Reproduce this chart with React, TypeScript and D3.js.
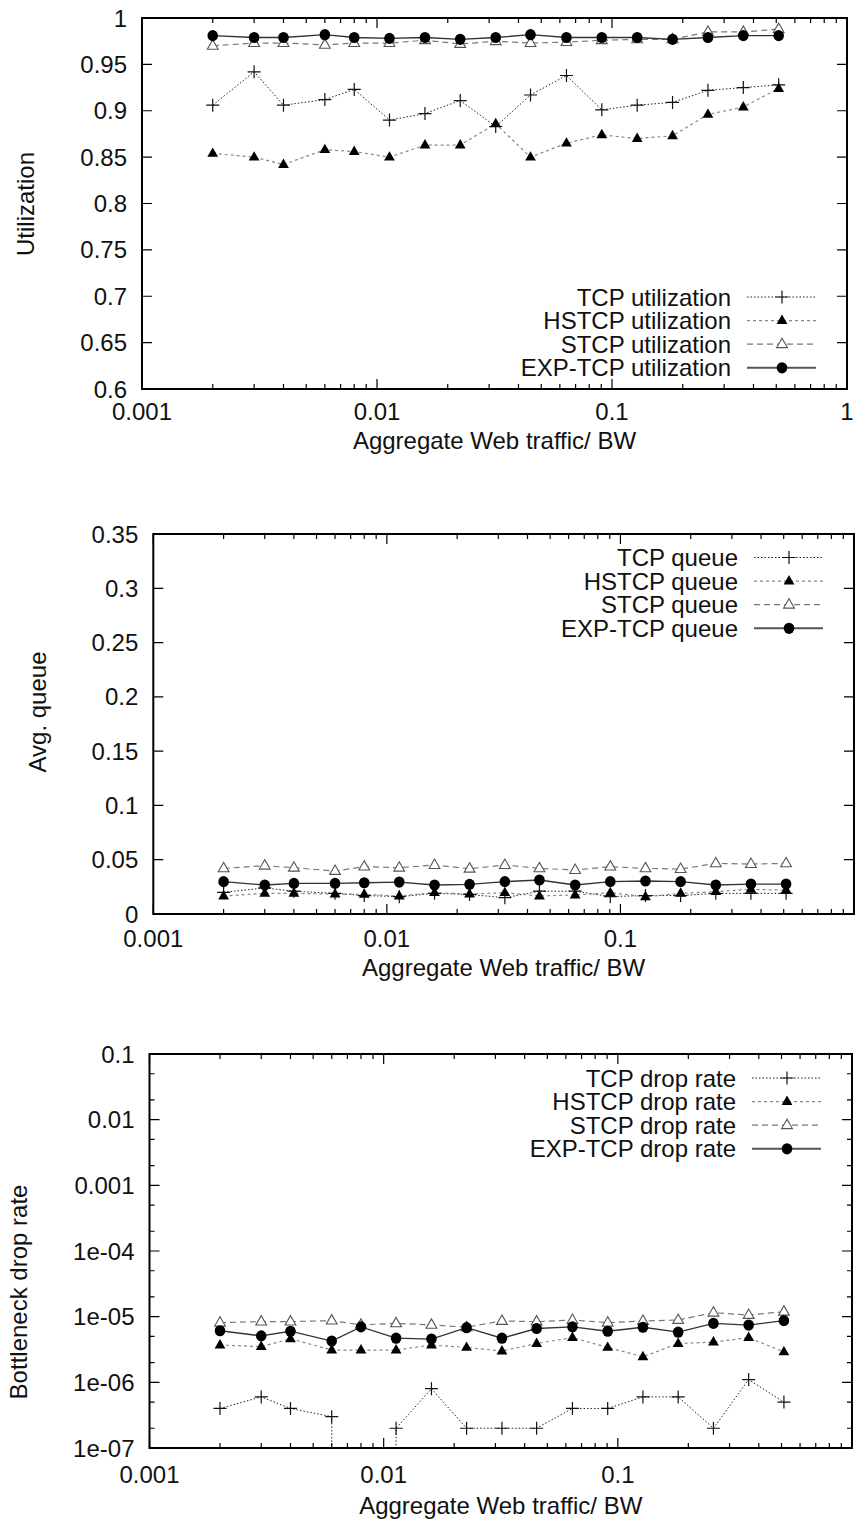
import React from "react";
import * as d3 from "d3";

// Offered web load (aggregate web traffic / bottleneck bandwidth)
const loads = [
  0.002, 0.003, 0.004, 0.006, 0.008, 0.0113, 0.016, 0.0226, 0.032, 0.045,
  0.064, 0.0905, 0.128, 0.181, 0.256, 0.362, 0.512,
];

// Bottleneck utilization
const tcpUtil = [0.906, 0.942, 0.906, 0.912, 0.923, 0.89, 0.897, 0.911, 0.883, 0.917, 0.938, 0.901, 0.906, 0.909, 0.922, 0.925, 0.928];
const hstcpUtil = [0.854, 0.85, 0.842, 0.858, 0.856, 0.85, 0.863, 0.863, 0.886, 0.85, 0.865, 0.874, 0.87, 0.873, 0.896, 0.904, 0.924];
const stcpUtil = [0.97, 0.973, 0.973, 0.971, 0.973, 0.973, 0.976, 0.972, 0.975, 0.973, 0.974, 0.976, 0.977, 0.977, 0.985, 0.985, 0.988];
const expUtil = [0.981, 0.979, 0.979, 0.982, 0.979, 0.978, 0.979, 0.977, 0.979, 0.982, 0.979, 0.979, 0.979, 0.977, 0.979, 0.981, 0.981];

// Average queue (fraction of buffer)
const tcpQueue = [0.02, 0.024, 0.021, 0.019, 0.017, 0.016, 0.019, 0.018, 0.015, 0.021, 0.021, 0.016, 0.017, 0.017, 0.019, 0.019, 0.019];
const hstcpQueue = [0.0166, 0.019, 0.019, 0.0184, 0.0181, 0.0166, 0.0196, 0.0184, 0.0196, 0.0166, 0.0175, 0.0196, 0.0159, 0.019, 0.0206, 0.0227, 0.022];
const stcpQueue = [0.042, 0.0445, 0.0426, 0.0396, 0.0436, 0.0426, 0.0451, 0.0417, 0.0451, 0.042, 0.0405, 0.0436, 0.042, 0.0414, 0.0466, 0.046, 0.0466];
const expQueue = [0.0298, 0.0267, 0.0282, 0.0282, 0.0288, 0.0294, 0.0267, 0.0273, 0.0298, 0.0313, 0.0267, 0.0298, 0.0304, 0.0298, 0.0267, 0.0276, 0.0276];

// Bottleneck drop rate (0 = no drops observed)
const tcpDrop = [4e-7, 6e-7, 4e-7, 3e-7, 0, 2e-7, 8e-7, 2e-7, 2e-7, 2e-7, 4e-7, 4e-7, 6e-7, 6e-7, 2e-7, 1.1e-6, 5e-7];
const hstcpDrop = [3.7e-6, 3.5e-6, 4.6e-6, 3.1e-6, 3.1e-6, 3.1e-6, 3.7e-6, 3.4e-6, 3.0e-6, 3.9e-6, 4.8e-6, 3.4e-6, 2.45e-6, 3.9e-6, 4.1e-6, 4.8e-6, 2.9e-6];
const stcpDrop = [8.1e-6, 8.4e-6, 8.4e-6, 8.7e-6, 7.5e-6, 7.9e-6, 7.5e-6, 6.9e-6, 8.6e-6, 8.4e-6, 8.9e-6, 8.1e-6, 8.6e-6, 8.9e-6, 1.15e-5, 1.06e-5, 1.19e-5];
const expDrop = [6.1e-6, 5.1e-6, 6.0e-6, 4.25e-6, 7.0e-6, 4.7e-6, 4.56e-6, 6.8e-6, 4.7e-6, 6.6e-6, 7.0e-6, 6.0e-6, 6.9e-6, 5.8e-6, 7.9e-6, 7.45e-6, 8.7e-6];

// Axis ticks
const xMajorTicks = [0.001, 0.01, 0.1, 1];
const xTickLabels = ["0.001", "0.01", "0.1", "1"];
const utilTicks = [0.6, 0.65, 0.7, 0.75, 0.8, 0.85, 0.9, 0.95, 1];
const utilTickLabels = ["0.6", "0.65", "0.7", "0.75", "0.8", "0.85", "0.9", "0.95", "1"];
const queueTicks = [0, 0.05, 0.1, 0.15, 0.2, 0.25, 0.3, 0.35];
const queueTickLabels = ["0", "0.05", "0.1", "0.15", "0.2", "0.25", "0.3", "0.35"];
const dropTicks = [1e-7, 1e-6, 1e-5, 1e-4, 1e-3, 1e-2, 1e-1];
const dropTickLabels = ["1e-07", "1e-06", "1e-05", "1e-04", "0.001", "0.01", "0.1"];

const protocols = ["TCP", "HSTCP", "STCP", "EXP-TCP"];

const FONT = '"Liberation Sans", Arial, Helvetica, sans-serif';
const FS = 24;

type MarkerKind = "plus" | "triFilled" | "triOpen" | "circle";
type Style = { stroke: string; dash: string | null; width: number; marker: MarkerKind };

const styles: Style[] = [
  { stroke: "#222", dash: "1.5,2", width: 1, marker: "plus" },
  { stroke: "#888", dash: "3,3", width: 1.2, marker: "triFilled" },
  { stroke: "#777", dash: "6,4", width: 1.2, marker: "triOpen" },
  { stroke: "#333", dash: null, width: 1.3, marker: "circle" },
];

function Marker({ kind, x, y }: { kind: MarkerKind; x: number; y: number }) {
  if (kind === "plus") {
    const h = 6.5;
    return (
      <path
        d={`M${x - h},${y}H${x + h}M${x},${y - h}V${y + h}`}
        stroke="#111"
        strokeWidth={1.2}
        fill="none"
      />
    );
  }
  if (kind === "circle") {
    return <ellipse cx={x} cy={y} rx={5.3} ry={5.6} fill="#000" />;
  }
  const pts = `${x},${y - 6} ${x - 5.4},${y + 3.4} ${x + 5.4},${y + 3.4}`;
  if (kind === "triFilled") return <polygon points={pts} fill="#000" />;
  return <polygon points={pts} fill="#fff" stroke="#555" strokeWidth={1.1} />;
}

type PanelProps = {
  id: string;
  left: number;
  right: number;
  top: number;
  bottom: number;
  logY: boolean;
  yDomain: [number, number];
  yTicks: number[];
  yTickLabels: string[];
  series: number[][];
  suffix: string;
  yTitle: string;
  yTitleX: number;
  yTitleY: number;
  legendTop: number;
  xTickY: number;
  xTitleY: number;
  showLastX: boolean;
};

function Panel(p: PanelProps) {
  const x = d3.scaleLog().domain([0.001, 1]).range([p.left, p.right]);
  const y = (p.logY ? d3.scaleLog() : d3.scaleLinear())
    .domain(p.yDomain)
    .range([p.bottom, p.top]);

  const xMinor: number[] = [];
  [0.001, 0.01, 0.1].forEach((d) => {
    for (let k = 2; k <= 9; k++) xMinor.push(d * k);
  });
  const yMinor: number[] = [];
  if (p.logY) {
    p.yTicks.slice(0, -1).forEach((d) => {
      yMinor.push(d * 2, d * 5);
    });
  }

  const major = 10;
  const minor = 5;
  let tickPath = "";
  xMajorTicks.forEach((t) => {
    const xx = x(t);
    tickPath += `M${xx},${p.bottom}v${-major}M${xx},${p.top}v${major}`;
  });
  xMinor.forEach((t) => {
    const xx = x(t);
    tickPath += `M${xx},${p.bottom}v${-minor}M${xx},${p.top}v${minor}`;
  });
  p.yTicks.forEach((t) => {
    const yy = y(t);
    tickPath += `M${p.left},${yy}h${major}M${p.right},${yy}h${-major}`;
  });
  yMinor.forEach((t) => {
    const yy = y(t);
    tickPath += `M${p.left},${yy}h${minor}M${p.right},${yy}h${-minor}`;
  });

  const lineGen = d3
    .line<[number, number]>()
    .x((d) => x(d[0]))
    .y((d) => y(p.logY && d[1] <= 0 ? Number.MIN_VALUE : d[1]));

  const legendRight = p.right - 116;
  const rowH = 23.6;
  const clipId = `clip-${p.id}`;

  return (
    <g>
      <defs>
        <clipPath id={clipId}>
          <rect x={p.left} y={p.top} width={p.right - p.left} height={p.bottom - p.top} />
        </clipPath>
      </defs>
      <g clipPath={`url(#${clipId})`}>
        {p.series.map((vals, i) => (
          <path
            key={i}
            d={lineGen(loads.map((l, j) => [l, vals[j]] as [number, number])) || ""}
            fill="none"
            stroke={styles[i].stroke}
            strokeWidth={styles[i].width}
            strokeDasharray={styles[i].dash || undefined}
          />
        ))}
        {p.series.map((vals, i) => (
          <g key={i}>
            {vals.map((v, j) =>
              p.logY && v <= 0 ? null : (
                <Marker key={j} kind={styles[i].marker} x={x(loads[j])} y={y(v)} />
              )
            )}
          </g>
        ))}
      </g>
      <path d={tickPath} stroke="#000" strokeWidth={1.2} fill="none" />
      <rect
        x={p.left}
        y={p.top}
        width={p.right - p.left}
        height={p.bottom - p.top}
        fill="none"
        stroke="#000"
        strokeWidth={2}
      />
      {p.yTicks.map((t, i) => (
        <text
          key={`yl${i}`}
          x={p.left - 15}
          y={y(t)}
          textAnchor="end"
          dominantBaseline="central"
          fontSize={FS}
          fontFamily={FONT}
          fill="#111"
        >
          {p.yTickLabels[i]}
        </text>
      ))}
      {xMajorTicks.map((t, i) =>
        !p.showLastX && i === xMajorTicks.length - 1 ? null : (
          <text
            key={`xl${i}`}
            x={x(t)}
            y={p.xTickY}
            textAnchor="middle"
            fontSize={FS}
            fontFamily={FONT}
            fill="#111"
          >
            {xTickLabels[i]}
          </text>
        )
      )}
      <text
        x={(p.left + p.right) / 2}
        y={p.xTitleY}
        textAnchor="middle"
        fontSize={FS}
        fontFamily={FONT}
        fill="#111"
      >
        Aggregate Web traffic/ BW
      </text>
      <text
        transform={`translate(${p.yTitleX},${p.yTitleY}) rotate(-90)`}
        textAnchor="middle"
        dominantBaseline="central"
        fontSize={FS}
        fontFamily={FONT}
        fill="#111"
      >
        {p.yTitle}
      </text>
      {protocols.map((name, i) => {
        const cy = p.legendTop + i * rowH;
        const s = styles[i];
        return (
          <g key={`lg${i}`}>
            <text
              x={legendRight}
              y={cy}
              textAnchor="end"
              dominantBaseline="central"
              fontSize={FS}
              fontFamily={FONT}
              fill="#111"
            >
              {`${name} ${p.suffix}`}
            </text>
            <line
              x1={p.right - 100}
              x2={p.right - 31}
              y1={cy}
              y2={cy}
              stroke={i === 3 ? "#555" : s.stroke}
              strokeWidth={i === 3 ? 2 : s.width}
              strokeDasharray={s.dash || undefined}
            />
            <Marker kind={s.marker} x={p.right - 65} y={cy} />
          </g>
        );
      })}
    </g>
  );
}

export default function App() {
  return (
    <svg
      width={855}
      height={1528}
      style={{ position: "absolute", left: 0, top: 0, background: "#fff" }}
    >
      <rect width={855} height={1528} fill="#fff" />
      <Panel
        id="util"
        left={142}
        right={847}
        top={18}
        bottom={389}
        logY={false}
        yDomain={[0.6, 1]}
        yTicks={utilTicks}
        yTickLabels={utilTickLabels}
        series={[tcpUtil, hstcpUtil, stcpUtil, expUtil]}
        suffix="utilization"
        yTitle="Utilization"
        yTitleX={25}
        yTitleY={204}
        legendTop={297}
        xTickY={420}
        xTitleY={449}
        showLastX={true}
      />
      <Panel
        id="queue"
        left={153.3}
        right={854}
        top={534}
        bottom={914}
        logY={false}
        yDomain={[0, 0.35]}
        yTicks={queueTicks}
        yTickLabels={queueTickLabels}
        series={[tcpQueue, hstcpQueue, stcpQueue, expQueue]}
        suffix="queue"
        yTitle="Avg. queue"
        yTitleX={37}
        yTitleY={712}
        legendTop={557.5}
        xTickY={947}
        xTitleY={976}
        showLastX={false}
      />
      <Panel
        id="drop"
        left={149.5}
        right={852}
        top={1054}
        bottom={1448}
        logY={true}
        yDomain={[1e-7, 0.1]}
        yTicks={dropTicks}
        yTickLabels={dropTickLabels}
        series={[tcpDrop, hstcpDrop, stcpDrop, expDrop]}
        suffix="drop rate"
        yTitle="Bottleneck drop rate"
        yTitleX={18}
        yTitleY={1292}
        legendTop={1078}
        xTickY={1483}
        xTitleY={1514}
        showLastX={false}
      />
    </svg>
  );
}
